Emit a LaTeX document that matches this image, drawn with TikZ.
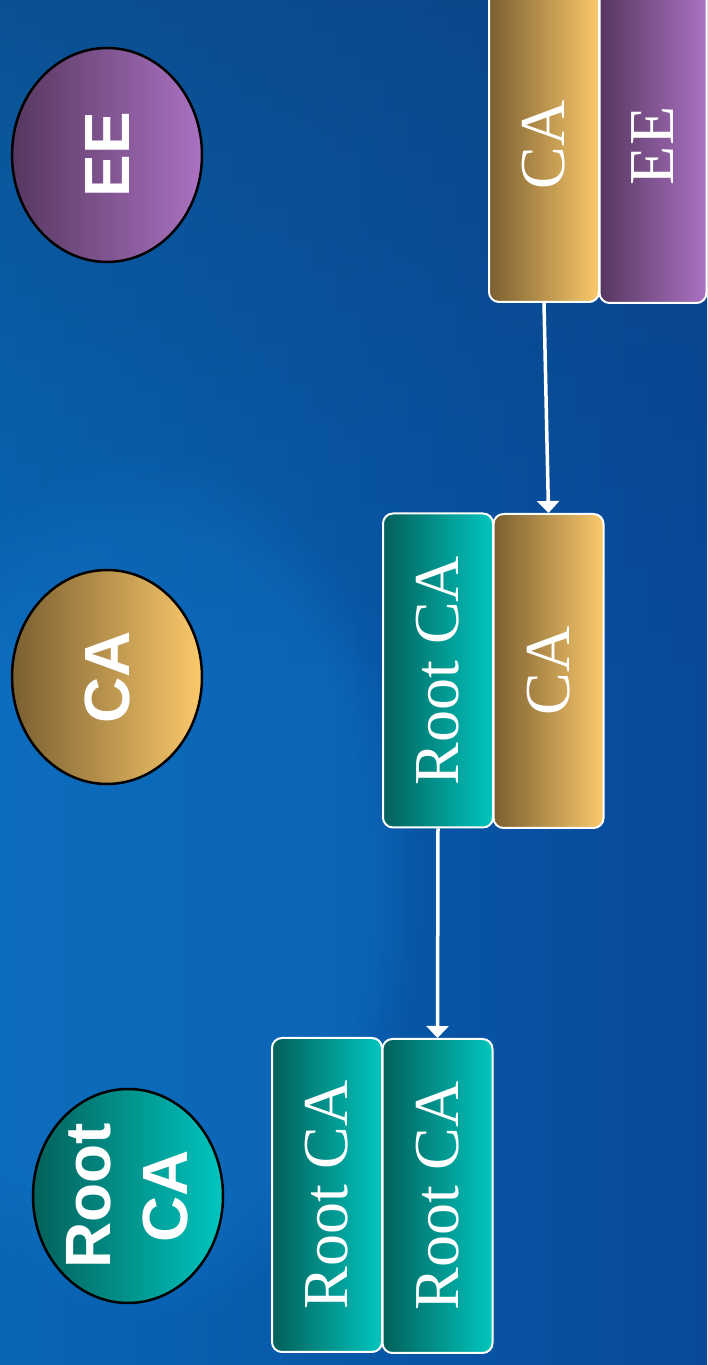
\documentclass[tikz,border=0pt]{standalone}
\usepackage{fontspec}
\setmainfont{Liberation Serif}
\newfontfamily\hsans{Liberation Sans}
\usetikzlibrary{shapes.geometric,arrows.meta,fadings}
\definecolor{tealD}{HTML}{03605A}
\definecolor{tealM}{HTML}{01A8A2}
\definecolor{tealL}{HTML}{00C6BF}
\definecolor{goldD}{HTML}{7A5F30}
\definecolor{goldM}{HTML}{DDAF5C}
\definecolor{goldL}{HTML}{FBC96B}
\definecolor{purpD}{HTML}{56375F}
\definecolor{purpM}{HTML}{9464AA}
\definecolor{purpL}{HTML}{AB72C2}
\definecolor{bgL}{HTML}{0966B6}
\definecolor{bgR}{HTML}{08499A}
\definecolor{bgTop}{HTML}{0C3E72}
\definecolor{bgGlow}{HTML}{1074C6}
\tikzset{
  ell/.style={ellipse, draw=black, line width=2.5pt, minimum width=190pt, minimum height=214pt,
    inner sep=0pt},
  elltxt/.style={text=white, font=\hsans\bfseries\fontsize{64}{77}\selectfont, inner sep=0pt},
  card/.style={rounded corners=10pt, draw=white, line width=2pt, minimum width=110pt,
    minimum height=314pt, inner sep=0pt, text=white, font=\fontsize{64}{77}\selectfont},
  tealfill/.style={left color=tealD, middle color=tealM, right color=tealL},
  goldfill/.style={left color=goldD, middle color=goldM, right color=goldL},
  purpfill/.style={left color=purpD, middle color=purpM, right color=purpL},
  arr/.style={draw=white, line width=3.5pt, -{Triangle[width=22pt,length=12pt]}}
}
\begin{document}
\begin{tikzpicture}[x=1pt,y=1pt]
\useasboundingbox (0,0) rectangle (707,1365);
\clip (0,0) rectangle (707,1365);
% background
\shade[left color=bgL, right color=bgR] (0,0) rectangle (707,1365);
\fill[bgGlow, opacity=0.45, path fading=circle with fuzzy edge 20 percent] (150,480) ellipse (270pt and 440pt);
\fill[bgTop, opacity=0.55, path fading=south] (0,700) rectangle (707,1420);
% ellipses
\node[ell, tealfill, label={[elltxt, xshift=6pt]center:\rotatebox{90}{\begin{tabular}{@{}c@{}}Root\\CA\end{tabular}}}] (rootE) at (128,169) {};
\node[ell, goldfill, label={[elltxt]center:\rotatebox{90}{CA}}] (caE) at (107,688) {};
\node[ell, purpfill, label={[elltxt]center:\rotatebox{90}{EE}}] (eeE) at (107,1210) {};
% top chain
\node[card, goldfill] (caTop) at (544,1220) {\rotatebox{90}{CA}};
\node[card, purpfill, minimum width=107pt] (eeTop) at (653,1219) {\rotatebox{90}{EE}};
% middle chain
\node[card, tealfill] (rootMid) at (438,694.5) {\rotatebox{90}{Root CA}};
\node[card, goldfill] (caMid) at (548.5,694) {\rotatebox{90}{CA}};
% bottom chain
\node[card, tealfill] (rootBot1) at (327,170) {\rotatebox{90}{Root CA}};
\node[card, tealfill] (rootBot2) at (437.5,169) {\rotatebox{90}{Root CA}};
% arrows
\draw[arr] (caTop.south) -- (caMid.north);
\draw[arr] (rootMid.south) -- (rootBot2.north);
\end{tikzpicture}
\end{document}
